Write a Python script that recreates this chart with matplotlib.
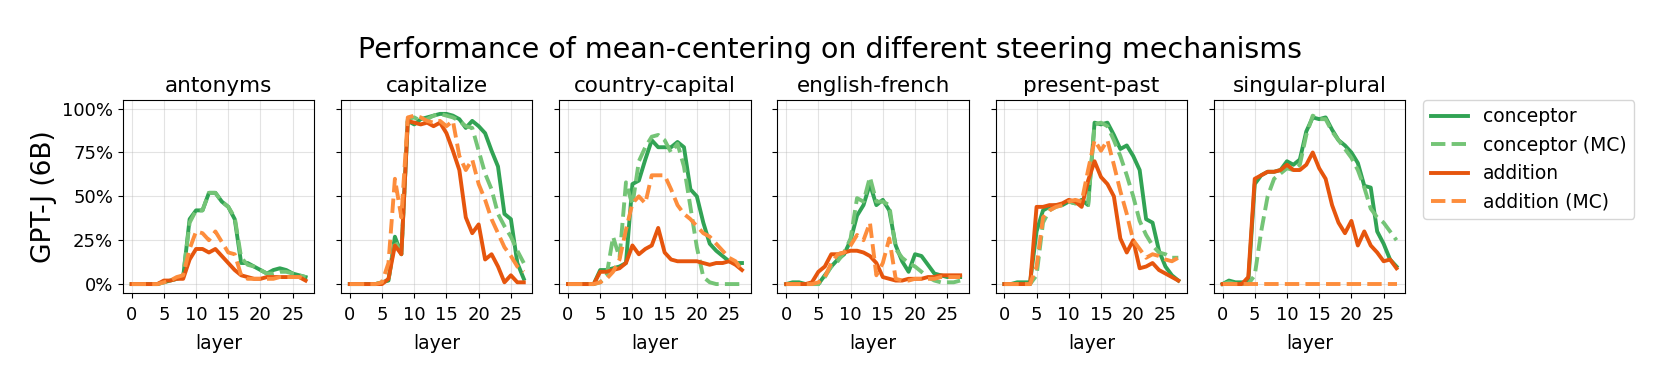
import numpy as np
import matplotlib
matplotlib.use("Agg")
import matplotlib.pyplot as plt
from matplotlib.ticker import PercentFormatter

layers = list(range(28))
tasks = ["antonyms", "capitalize", "country-capital", "english-french", "present-past", "singular-plural"]

# values in percent, one list per task (layers 0..27)
conceptor = {
    "antonyms": [0, 0, 0, 0, 0, 1, 2, 3, 4, 37, 42, 42, 52, 52, 47, 44, 37, 12, 12, 10, 8, 6, 8, 9, 8, 6, 5, 4],
    "capitalize": [0, 0, 0, 0, 0, 1, 2, 27, 17, 93, 91, 94, 95, 96, 97, 97, 96, 94, 89, 93, 90, 86, 76, 67, 40, 37, 12, 3],
    "country-capital": [0, 0, 0, 0, 0, 8, 8, 9, 10, 12, 57, 59, 71, 82, 78, 78, 78, 81, 78, 54, 50, 35, 23, 19, 16, 13, 12, 12],
    "english-french": [0, 1, 1, 0, 0, 0, 5, 10, 14, 17, 25, 39, 45, 57, 45, 48, 42, 22, 13, 7, 17, 16, 11, 6, 5, 4, 4, 4],
    "present-past": [0, 0, 1, 1, 1, 30, 42, 44, 45, 45, 47, 46, 48, 45, 92, 91, 92, 85, 77, 79, 73, 65, 37, 35, 19, 10, 5, 2],
    "singular-plural": [0, 2, 1, 1, 1, 57, 62, 64, 64, 65, 70, 68, 71, 87, 95, 94, 95, 88, 82, 79, 75, 69, 56, 55, 30, 23, 14, 10],
}
conceptor_mc = {
    "antonyms": [0, 0, 0, 0, 0, 1, 2, 3, 5, 35, 42, 42, 52, 52, 47, 44, 38, 15, 11, 10, 8, 6, 6, 7, 7, 6, 5, 4],
    "capitalize": [0, 0, 0, 0, 0, 1, 2, 25, 17, 94, 95, 93, 94, 96, 97, 96, 95, 93, 90, 89, 76, 63, 54, 40, 33, 27, 19, 12],
    "country-capital": [0, 0, 0, 0, 0, 1, 5, 27, 15, 58, 45, 70, 78, 84, 85, 82, 75, 80, 67, 44, 21, 4, 1, 0, 0, 0, 0, 0],
    "english-french": [0, 0, 0, 0, 0, 0, 4, 10, 13, 18, 26, 49, 47, 61, 47, 47, 45, 20, 15, 12, 10, 7, 4, 2, 1, 1, 1, 2],
    "present-past": [0, 0, 0, 0, 0, 5, 35, 42, 44, 45, 47, 46, 46, 45, 91, 92, 90, 82, 73, 62, 50, 36, 28, 22, 18, 17, 15, 15],
    "singular-plural": [0, 1, 0, 0, 0, 5, 30, 50, 60, 63, 66, 65, 68, 85, 96, 94, 94, 87, 82, 77, 72, 65, 55, 43, 38, 35, 30, 25],
}
addition = {
    "antonyms": [0, 0, 0, 0, 0, 2, 2, 3, 3, 14, 20, 20, 18, 20, 16, 12, 8, 5, 4, 3, 3, 4, 4, 4, 4, 4, 4, 2],
    "capitalize": [0, 0, 0, 0, 0, 0, 3, 22, 17, 93, 92, 91, 92, 90, 92, 86, 76, 65, 38, 29, 34, 14, 17, 10, 1, 5, 1, 1],
    "country-capital": [0, 0, 0, 0, 0, 7, 7, 8, 9, 12, 22, 17, 20, 22, 32, 18, 14, 13, 13, 13, 13, 12, 11, 12, 12, 13, 11, 8],
    "english-french": [0, 0, 0, 0, 1, 7, 10, 17, 17, 18, 19, 19, 18, 16, 12, 4, 3, 2, 2, 3, 3, 3, 4, 4, 5, 5, 5, 5],
    "present-past": [0, 0, 0, 0, 0, 44, 44, 45, 45, 46, 48, 47, 44, 59, 70, 61, 57, 50, 26, 18, 25, 9, 10, 12, 8, 6, 4, 2],
    "singular-plural": [0, 0, 0, 0, 4, 60, 62, 64, 64, 65, 68, 65, 65, 68, 75, 66, 60, 45, 35, 29, 36, 22, 30, 22, 18, 13, 14, 9],
}
addition_mc = {
    "antonyms": [0, 0, 0, 0, 0, 1, 2, 4, 5, 20, 30, 29, 25, 30, 24, 18, 17, 5, 3, 3, 3, 3, 3, 4, 4, 4, 4, 3],
    "capitalize": [0, 0, 0, 0, 0, 1, 12, 60, 38, 95, 96, 95, 93, 92, 93, 90, 93, 73, 65, 71, 57, 48, 37, 29, 21, 16, 10, 7],
    "country-capital": [0, 0, 0, 0, 0, 1, 3, 7, 14, 31, 46, 50, 46, 62, 62, 62, 54, 45, 40, 37, 33, 29, 27, 23, 19, 15, 13, 8],
    "english-french": [0, 0, 0, 0, 0, 1, 4, 12, 17, 18, 22, 28, 25, 35, 5, 12, 26, 3, 2, 2, 3, 3, 3, 3, 4, 4, 4, 4],
    "present-past": [0, 0, 0, 0, 0, 10, 38, 42, 44, 45, 47, 48, 47, 65, 82, 76, 82, 68, 53, 40, 25, 20, 15, 17, 16, 14, 13, 15],
    "singular-plural": [0] * 28,
}

series = [
    ("conceptor", conceptor, "#31a354", "-"),
    ("conceptor (MC)", conceptor_mc, "#74c476", "--"),
    ("addition", addition, "#e6550d", "-"),
    ("addition (MC)", addition_mc, "#fd8d3c", "--"),
]

fig, axes = plt.subplots(1, 6, figsize=(16.61, 3.74), dpi=100, sharey=True)
fig.subplots_adjust(left=0.074, right=0.846, top=0.733, bottom=0.217, wspace=0.14)

for ax, task in zip(axes, tasks):
    for label, data, color, ls in series:
        ax.plot(layers, np.array(data[task]) / 100, color=color, linestyle=ls, linewidth=2.8, label=label)
    ax.set_title(task, fontsize=15.5)
    ax.set_xlabel("layer", fontsize=13.5, labelpad=7)
    ax.set_xticks([0, 5, 10, 15, 20, 25])
    ax.set_yticks([0, 0.25, 0.5, 0.75, 1.0])
    ax.set_ylim(-0.05, 1.05)
    ax.yaxis.set_major_formatter(PercentFormatter(1.0, decimals=0))
    ax.tick_params(labelsize=13)
    ax.tick_params(axis="x", pad=6)
    ax.grid(True, alpha=0.35)

axes[0].set_ylabel("GPT-J (6B)", fontsize=19)
axes[-1].legend(loc="upper left", bbox_to_anchor=(1.094, 1.0), borderaxespad=0, fontsize=13.5)
fig.suptitle("Performance of mean-centering on different steering mechanisms", fontsize=20.5, y=0.905)

plt.savefig("out.png")
